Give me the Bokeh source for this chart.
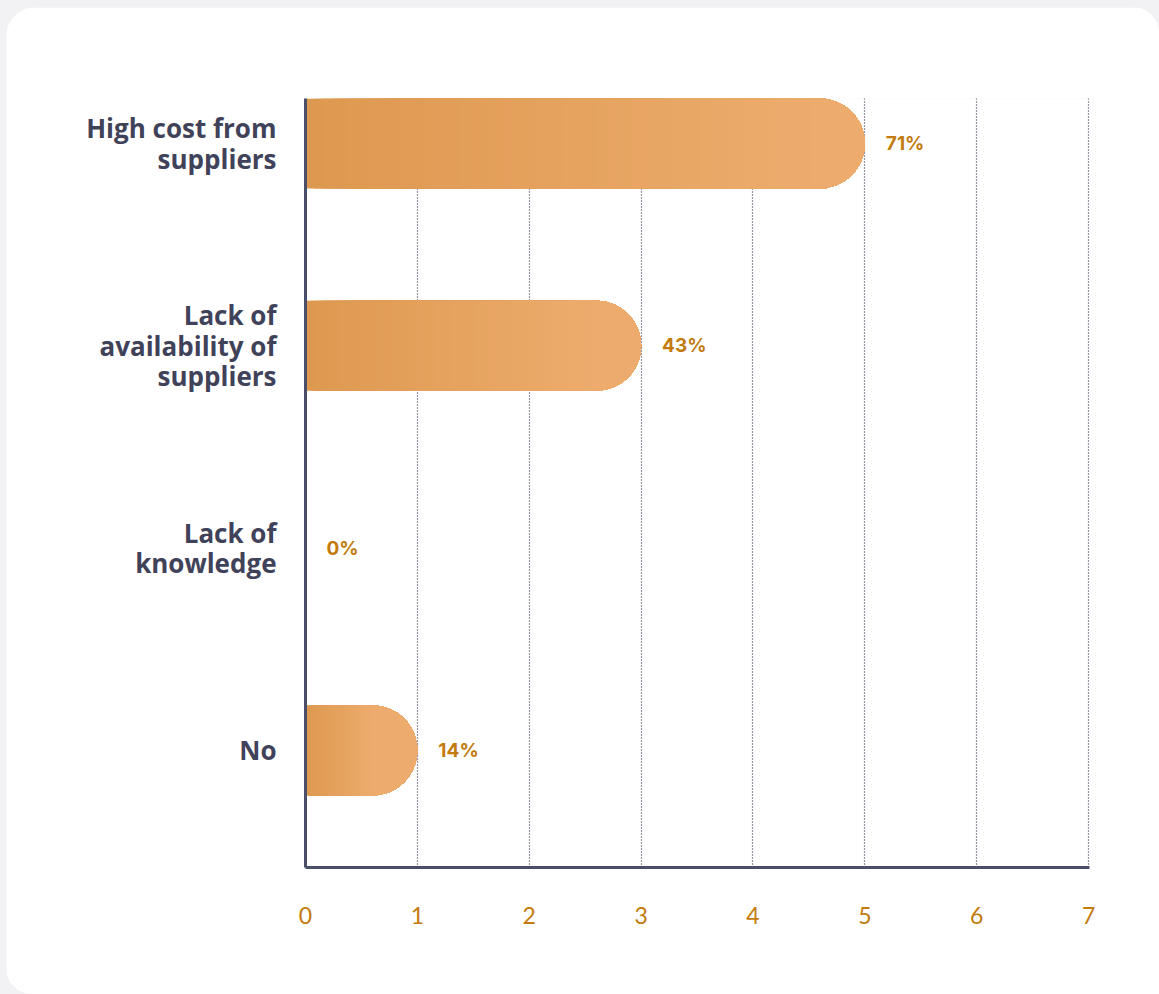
from bokeh.plotting import figure
from bokeh.models import Range1d, FixedTicker, ColumnDataSource
from bokeh.layouts import column
from bokeh.core.properties import value
from bokeh.embed import file_html
from bokeh.resources import INLINE

# ---- data ----
categories = ["High cost from\nsuppliers", "Lack of\navailability of\nsuppliers", "Lack of\nknowledge", "No"]
values = [5, 3, 0, 1]
value_labels = ["71%", "43%", "0%", "14%"]
x_ticks = [0, 1, 2, 3, 4, 5, 6, 7]

# ---- styling ----
DARK = "#3f4259"
AXIS = "#4b4e68"
ORANGE_TXT = "#c27b0c"
C_START = (222, 153, 80)
C_END = (237, 172, 110)
FRAME_W = 784
FRAME_H = 769
BAR_PX = 90
X_MAX = 7

pos = list(range(len(categories)))
step = 202.3
p = figure(width=1153, height=987, output_backend="svg", toolbar_location=None,
           x_range=Range1d(0, X_MAX + 0.008),
           y_range=Range1d(len(categories) - 1 + (FRAME_H - 45 - step * 3) / step, -45 / step),
           min_border_left=299, min_border_top=91, min_border_right=70, min_border_bottom=127)
p.margin = (7, 0, 0, 6)
p.styles = {"border-radius": "30px 26px 0px 26px", "overflow": "hidden"}
p.background_fill_color = "white"
p.border_fill_color = "white"
p.outline_line_color = None

bar_h = BAR_PX / step
r_data = (BAR_PX / 2) * X_MAX / FRAME_W

# gradient: overlapping rounded segments, each from x_i to the bar's end
N = 60
seg = dict(left=[], right=[], y=[], color=[])
def mix(t):
    c = tuple(int(round(a + (b - a) * t)) for a, b in zip(C_START, C_END))
    return "#%02x%02x%02x" % c
for yi, v in zip(pos, values):
    if v <= 0:
        continue
    flat_end = v - r_data
    for i in range(N + 1):
        x0 = flat_end * i / N
        seg["left"].append(x0)
        seg["right"].append(v)
        seg["y"].append(yi)
        seg["color"].append(mix(i / N))

p.hbar(y="y", left="left", right="right", height=bar_h, fill_color="color",
       line_color=None, border_radius=(0, BAR_PX // 2, BAR_PX // 2, 0),
       source=ColumnDataSource(seg))

# value labels
p.text(x=values, y=pos, text=value_labels, x_offset=21, text_align="left",
       text_baseline="middle", text_font=value("Inter"), text_font_style="bold",
       text_font_size="19px", text_color=ORANGE_TXT)

# axes
p.xaxis.ticker = FixedTicker(ticks=x_ticks)
p.xaxis.axis_line_color = AXIS
p.xaxis.axis_line_width = 3
p.xaxis.major_tick_line_color = None
p.xaxis.minor_tick_line_color = None
p.xaxis.major_label_text_color = ORANGE_TXT
p.xaxis.major_label_text_font = "Lato"
p.xaxis.major_label_text_font_size = "23px"
p.xaxis.major_label_standoff = 33

p.yaxis.ticker = FixedTicker(ticks=pos)
p.yaxis.major_label_overrides = {i: c for i, c in zip(pos, categories)}
p.yaxis.axis_line_color = AXIS
p.yaxis.axis_line_width = 3
p.yaxis.major_tick_line_color = None
p.yaxis.minor_tick_line_color = None
p.yaxis.major_label_text_color = DARK
p.yaxis.major_label_text_font = "Open Sans"
p.yaxis.major_label_text_font_style = "bold"
p.yaxis.major_label_text_font_size = "26px"
p.yaxis.major_label_text_line_height = 0.85
p.yaxis.major_label_standoff = 23

p.ygrid.grid_line_color = None
p.xgrid.ticker = FixedTicker(ticks=x_ticks[1:])
p.xgrid.grid_line_color = "#2c2f45"
p.xgrid.grid_line_dash = "1 2"
p.xgrid.grid_line_width = 1.2

root = column(p, width=1159, height=994, styles={"background-color": "#f2f2f4"})

open("out.html", "w").write(file_html(root, INLINE))
